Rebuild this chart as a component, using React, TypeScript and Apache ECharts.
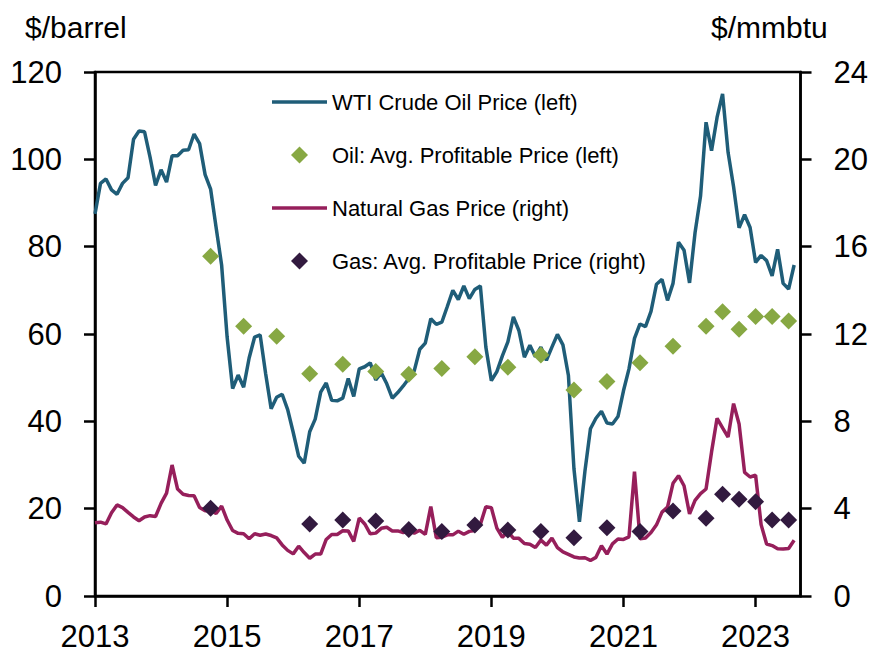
import React, { useEffect, useRef } from 'react';
import * as echarts from 'echarts';

// Monthly series, first point = Jan 2013
const START_YEAR = 2013;
const wtiPrice = [
  87.5, 94.5, 95.5, 93, 92, 94.5, 95.8, 104.6, 106.5, 106.3, 100.5, 94,
  97.6, 94.8, 100.8, 100.8, 102.1, 102.2, 105.8, 103.6, 96.5, 93.2, 84.4, 75.8,
  59.3, 47.5, 50.6, 47.8, 54.5, 59.3, 59.8, 50.9, 42.9, 45.5, 46.2, 42.7,
  37.5, 32, 30.4, 37.6, 40.5, 46.7, 48.8, 44.8, 44.7, 45.3, 49.8, 45.7,
  52, 52.5, 53.4, 49.5, 51.1, 48.6, 45.3, 46.6, 48.1, 49.8, 51.6, 56.5,
  57.9, 63.5, 62.2, 62.7, 66.3, 70, 67.9, 71, 68.1, 70.2, 71, 57,
  49.3, 51.4, 55, 58.2, 63.9, 60.8, 54.7, 57.4, 54.8, 57, 54, 57,
  59.9, 57.5, 50.5, 29.2, 17, 28.6, 38.3, 40.7, 42.3, 39.6, 39.4, 41.1,
  47, 52, 59, 62.3, 61.7, 65.2, 71.4, 72.5, 67.7, 71.6, 81, 79.2,
  71.7, 83.2, 91.6, 108.5, 102, 109.6, 115, 101.6, 93.7, 84.3, 87.3, 84.4,
  76.4, 78, 76.8, 73.3, 79.4, 71.6, 70.3, 75.8,
];
const gasPrice = [
  3.35, 3.38, 3.3, 3.81, 4.17, 4.05, 3.83, 3.62, 3.45, 3.62, 3.68, 3.64,
  4.24, 4.71, 6.0, 4.9, 4.66, 4.6, 4.59, 4.05, 3.91, 3.92, 3.78, 4.12,
  3.48, 3.0, 2.87, 2.85, 2.62, 2.85, 2.78, 2.84, 2.77, 2.66, 2.34, 2.09,
  1.93, 2.28, 1.99, 1.73, 1.92, 1.92, 2.59, 2.82, 2.82, 2.99, 2.98, 2.5,
  3.57, 3.3, 2.85, 2.88, 3.1, 3.15, 2.98, 2.98, 2.9, 2.98, 2.88, 3.01,
  2.82, 4.1, 2.67, 2.69, 2.8, 2.8, 2.97, 2.83, 2.96, 3.0, 3.28, 4.09,
  4.04, 3.11, 2.69, 2.95, 2.65, 2.64, 2.4, 2.37, 2.22, 2.56, 2.33, 2.65,
  2.22, 2.02, 1.91, 1.79, 1.74, 1.75, 1.63, 1.77, 2.3, 1.92, 2.39, 2.61,
  2.59, 2.71, 5.7, 2.62, 2.66, 2.91, 3.26, 3.84, 4.07, 5.16, 5.51, 5.05,
  3.76, 4.38, 4.69, 4.9, 6.6, 8.14, 7.7, 7.28, 8.81, 7.88, 5.66, 5.45,
  5.53, 3.27, 2.38, 2.31, 2.16, 2.15, 2.18, 2.55,
];

const oilSurveyDates = [
  '2014-10', '2015-04', '2015-10', '2016-04', '2016-10', '2017-04', '2017-10',
  '2018-04', '2018-10', '2019-04', '2019-10', '2020-04', '2020-10', '2021-04',
  '2021-10', '2022-04', '2022-07', '2022-10', '2023-01', '2023-04', '2023-07',
];
const oilProfitable = [
  77.8, 61.8, 59.5, 50.9, 53.1, 51.4, 50.8, 52.1, 54.8, 52.4, 55.2, 47.2, 49.1,
  53.4, 57.2, 61.8, 65.1, 61.1, 64, 64, 63,
];
const gasSurveyDates = [
  '2014-10', '2016-04', '2016-10', '2017-04', '2017-10', '2018-04', '2018-10',
  '2019-04', '2019-10', '2020-04', '2020-10', '2021-04', '2021-10', '2022-04',
  '2022-07', '2022-10', '2023-01', '2023-04', '2023-07',
];
const gasProfitable = [
  4.02, 3.3, 3.48, 3.44, 3.05, 2.95, 3.25, 3.02, 2.95, 2.67, 3.13, 2.95, 3.89,
  3.56, 4.66, 4.43, 4.32, 3.48, 3.48,
];
const yearTicks = [2013, 2015, 2017, 2019, 2021, 2023];
const leftTicks = { min: 0, max: 120, interval: 20 };
const rightTicks = { min: 0, max: 24, interval: 4 };

const NAMES = {
  wti: 'WTI Crude Oil Price (left)',
  oil: 'Oil: Avg. Profitable Price (left)',
  gas: 'Natural Gas Price (right)',
  gasP: 'Gas: Avg. Profitable Price (right)',
};

const toYear = (ym: string) => {
  const [y, m] = ym.split('-').map(Number);
  return y + (m - 1) / 12;
};
const monthly = (vals: number[]) => vals.map((v, i) => [START_YEAR + i / 12, v]);
const dated = (dates: string[], vals: number[]) => vals.map((v, i) => [toYear(dates[i]), v]);

const TEXT_FONT = "'Liberation Sans', Arial, sans-serif";
const DIAMOND = 'path://M8,0L16,8L8,16L0,8Z';
const BAR = 'path://M0,0L110,0L110,7L0,7Z';

export default function App() {
  const ref = useRef<HTMLDivElement>(null);
  useEffect(() => {
    document.body.style.margin = '0';
    const chart = echarts.init(ref.current!, null, { renderer: 'svg' });
    const axisStyle = { lineStyle: { color: '#000', width: 2.5 } };
    const yCommon = {
      type: 'value',
      splitLine: { show: false },
      axisLine: { show: true, ...axisStyle },
      axisTick: { show: true, inside: false, length: 11, ...axisStyle },
      axisLabel: { color: '#000', fontSize: 31, fontFamily: TEXT_FONT, margin: 33 },
    };
    chart.setOption({
      animation: false,
      backgroundColor: '#fff',
      grid: { left: 95, right: 69, top: 72, bottom: 63, show: true, borderColor: '#000', borderWidth: 2.5 },
      xAxis: {
        type: 'value',
        min: 2013,
        max: 2023.68,
        interval: 1,
        splitLine: { show: false },
        axisLine: { show: true, onZero: false, ...axisStyle },
        axisTick: { show: true, length: 11, customValues: yearTicks, ...axisStyle },
        axisLabel: {
          color: '#000', fontSize: 31, fontFamily: TEXT_FONT, margin: 25,
          customValues: yearTicks, formatter: (v: number) => String(Math.round(v)),
        },
      },
      yAxis: [
        { ...yCommon, position: 'left', ...leftTicks },
        { ...yCommon, position: 'right', ...rightTicks },
      ],
      legend: {
        orient: 'vertical', left: 272, top: 90, padding: 0, itemGap: 29,
        itemWidth: 55, itemHeight: 17,
        textStyle: { fontSize: 22, fontFamily: TEXT_FONT, color: '#000', lineHeight: 24 },
        data: [
          { name: NAMES.wti, icon: BAR },
          { name: NAMES.oil, icon: DIAMOND },
          { name: NAMES.gas, icon: BAR },
          { name: NAMES.gasP, icon: DIAMOND },
        ],
      },
      graphic: [
        { type: 'text', left: 25, top: 12, style: { text: '$/barrel', fontSize: 30, fontFamily: TEXT_FONT, fill: '#000' } },
        { type: 'text', left: 711, top: 12, style: { text: '$/mmbtu', fontSize: 30, fontFamily: TEXT_FONT, fill: '#000' } },
      ],
      series: [
        {
          name: NAMES.wti, type: 'line', yAxisIndex: 0, data: monthly(wtiPrice),
          symbol: 'none', lineStyle: { color: '#1f5d78', width: 3.5 }, itemStyle: { color: '#1f5d78' }, z: 2,
        },
        {
          name: NAMES.gas, type: 'line', yAxisIndex: 1, data: monthly(gasPrice),
          symbol: 'none', lineStyle: { color: '#961f5b', width: 3.5 }, itemStyle: { color: '#961f5b' }, z: 2,
        },
        {
          name: NAMES.oil, type: 'scatter', yAxisIndex: 0, data: dated(oilSurveyDates, oilProfitable),
          symbol: 'diamond', symbolSize: 17, itemStyle: { color: '#87a843', opacity: 1 }, z: 3,
        },
        {
          name: NAMES.gasP, type: 'scatter', yAxisIndex: 1, data: dated(gasSurveyDates, gasProfitable),
          symbol: 'diamond', symbolSize: 17, itemStyle: { color: '#321a3f', opacity: 1 }, z: 3,
        },
      ],
    });
    return () => chart.dispose();
  }, []);
  return <div ref={ref} style={{ width: 871, height: 659, position: 'absolute', left: 0, top: 0 }} />;
}
